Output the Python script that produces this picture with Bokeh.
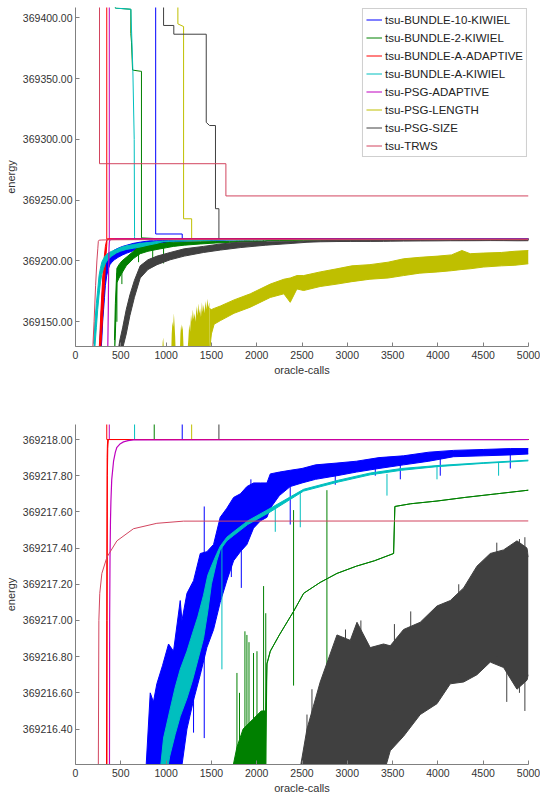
from bokeh.plotting import figure
from bokeh.layouts import column
from bokeh.models import Range1d, FixedTicker, PrintfTickFormatter, Legend, LegendItem
from bokeh.embed import file_html
from bokeh.resources import INLINE

# ---------------- data ----------------
SERIES = ["tsu-BUNDLE-10-KIWIEL", "tsu-BUNDLE-2-KIWIEL", "tsu-BUNDLE-A-ADAPTIVE",
          "tsu-BUNDLE-A-KIWIEL", "tsu-PSG-ADAPTIVE", "tsu-PSG-LENGTH", "tsu-PSG-SIZE", "tsu-TRWS"]
COLORS = ["#0000ff", "#008000", "#ff0000", "#00bfbf", "#bf00bf", "#bfbf00", "#404040", "#d2455f"]

X_TICKS = [0, 500, 1000, 1500, 2000, 2500, 3000, 3500, 4000, 4500, 5000]
TOP_Y_TICKS = [369150, 369200, 369250, 369300, 369350, 369400]
BOTTOM_Y_TICKS = [369216.4, 369216.6, 369216.8, 369217.0, 369217.2, 369217.4,
                  369217.6, 369217.8, 369218.0]

# --- tsu-BUNDLE-10-KIWIEL ---
B10_UP_X = [885, 885, 1178, 1178, 5000]
B10_UP_Y = [369450, 369222.2, 369222.2, 369218.0, 369218.0]
B10_LB_X = [270, 280, 290, 300, 310, 320, 330, 345, 360, 380,
            401, 430, 470, 520, 567, 640, 714, 780, 825, 860,
            898, 960, 1027, 1082, 1156, 1175, 1230, 1303, 1377, 1450,
            1524, 1597, 1670, 1745, 1820, 1892, 1965, 2040, 2113, 2150,
            2250, 2370, 2500, 2650, 2886, 3100, 3350, 3621, 3900, 4173,
            4500, 4800, 5000]
B10_LB_LO = [369120, 369125, 369135, 369150, 369160, 369170, 369180, 369188, 369193, 369197,
             369199, 369201, 369203, 369205, 369206.5, 369208.5, 369210, 369211.5, 369212.5, 369213.5,
             369214.2, 369215, 369215.5, 369215.8, 369216.1, 369216.2, 369216.4, 369216.56, 369216.7, 369216.85,
             369216.95, 369217.1, 369217.22, 369217.33, 369217.38, 369217.42, 369217.51, 369217.55, 369217.57, 369217.62,
             369217.69, 369217.74, 369217.76, 369217.78, 369217.80, 369217.82, 369217.84, 369217.86, 369217.88, 369217.905,
             369217.91, 369217.915, 369217.92]
B10_LB_HI = [369135, 369150, 369165, 369178, 369188, 369194, 369198, 369202, 369204, 369206,
             369207, 369209, 369210.5, 369212, 369213, 369214.5, 369215.5, 369216.2, 369216.6, 369216.55,
             369216.65, 369216.75, 369216.87, 369216.83, 369217.11, 369217.0, 369217.15, 369217.22, 369217.37, 369217.38,
             369217.42, 369217.57, 369217.62, 369217.68, 369217.70, 369217.74, 369217.76, 369217.76, 369217.76, 369217.81,
             369217.82, 369217.83, 369217.84, 369217.86, 369217.87, 369217.88, 369217.90, 369217.91, 369217.93, 369217.94,
             369217.945, 369217.95, 369217.95]
B10_SPIKE_X = [1303, 1421, 1720, 1830, 1936, 2370, 2867, 3309, 3585, 4026, 4799]
B10_SPIKE_LO = [369216.38, 369216.35, 369217.24, 369217.18, 369217.6, 369217.53, 369217.75,
                369217.80, 369217.78, 369217.80, 369217.84]
B10_SPIKE_HI = [369217.0, 369217.63, 369217.5, 369217.5, 369217.78, 369217.78, 369217.86,
                369217.85, 369217.86, 369217.9, 369217.92]

# --- tsu-BUNDLE-2-KIWIEL ---
B2_UP_X = [438, 440, 611, 611, 618, 630, 722, 728, 728, 869, 869, 5000]
B2_UP_Y = [369450, 369408, 369407, 369387, 369380, 369357, 369356, 369356, 369219,
           369218.5, 369218.0, 369218.0]
B2_LB_X = [430, 440, 457, 480, 512, 560, 640, 714, 800, 900,
           1009, 1080, 1200, 1377, 1550, 1700, 1782, 1850, 1950, 2050,
           2100, 2113, 2150, 2250, 2407, 2518, 2700, 2886, 3100, 3300,
           3511, 3525, 3700, 3990, 4300, 4650, 5000]
B2_LB_LO = [369120, 369140, 369182, 369186, 369190, 369196, 369202, 369206, 369208, 369209.5,
            369211, 369212, 369213, 369214, 369214.8, 369215.3, 369215.6, 369215.8, 369216.0, 369216.1,
            369216.2, 369216.76, 369216.83, 369216.92, 369217.05, 369217.15, 369217.21, 369217.26, 369217.30, 369217.33,
            369217.37, 369217.63, 369217.645, 369217.66, 369217.68, 369217.70, 369217.72]
B2_LB_HI = [369135, 369165, 369194, 369197, 369200, 369203, 369208, 369212.8, 369213.5, 369214.2,
            369215, 369215.5, 369215.6, 369215.8, 369216.0, 369216.1, 369216.3, 369216.4, 369216.45, 369216.5,
            369216.5, 369216.76, 369216.83, 369216.92, 369217.05, 369217.15, 369217.21, 369217.26, 369217.30, 369217.33,
            369217.37, 369217.63, 369217.645, 369217.66, 369217.68, 369217.70, 369217.72]
B2_SPIKE_X = [457, 512, 696, 852, 972, 1782, 1810, 1870, 1892, 1915, 1965, 2003, 2076, 2100, 2407, 2775]
B2_SPIKE_LO = [369150, 369181, 369199, 369199, 369198, 369216.0, 369216.0, 369216.0, 369216.0, 369216.0,
               369216.0, 369216.0, 369216.0, 369216.0, 369216.64, 369216.50]
B2_SPIKE_HI = [369190, 369198, 369210, 369212, 369214, 369216.71, 369216.6, 369216.94, 369216.92, 369216.88,
               369216.82, 369216.83, 369217.19, 369217.04, 369217.61, 369217.72]

# --- tsu-BUNDLE-A-ADAPTIVE ---
BA_UP_X = [345, 345, 5000]
BA_UP_Y = [369450, 369218.0, 369218.0]
BA_LB_X = [262, 270, 280, 290, 300, 310, 320, 330, 338, 345, 347, 349, 352, 356, 362, 5000]
BA_LB_LO = [369120, 369122, 369130, 369142, 369155, 369168, 369182, 369196, 369206, 369213,
            369216.0, 369217.0, 369217.8, 369217.95, 369218.0, 369218.0]
BA_LB_HI = [369128, 369140, 369158, 369172, 369186, 369196, 369205, 369212, 369215, 369217,
            369217.6, 369217.9, 369217.97, 369218.0, 369218.0, 369218.0]

# --- tsu-BUNDLE-A-KIWIEL ---
BK_UP_X = [438, 440, 611, 633, 648, 652, 652, 5000]
BK_UP_Y = [369450, 369408, 369407, 369357, 369300, 369220, 369218.0, 369218.0]
BK_LB_X = [200, 215, 230, 245, 260, 275, 290, 310, 330, 360,
           400, 450, 495, 560, 640, 714, 800, 900, 972, 1040,
           1100, 1156, 1230, 1292, 1350, 1413, 1460, 1500, 1560, 1597,
           1670, 1745, 1900, 2150, 2518, 2900, 3254, 3600, 3990, 4500,
           5000]
BK_LB_LO = [369120, 369130, 369145, 369160, 369172, 369182, 369189, 369194, 369198, 369201.5,
            369204, 369206.5, 369208, 369209.5, 369210.5, 369211.5, 369213, 369214.5, 369216.05, 369216.25,
            369216.37, 369216.47, 369216.57, 369216.67, 369216.78, 369216.9, 369217.05, 369217.2, 369217.33, 369217.39,
            369217.44, 369217.47, 369217.53, 369217.60, 369217.715, 369217.765, 369217.805, 369217.83, 369217.85, 369217.868,
            369217.882]
BK_LB_HI = [369132, 369150, 369165, 369176, 369188, 369194, 369199, 369202, 369204.5, 369206.5,
            369208, 369209.5, 369211, 369212.5, 369213.5, 369214.5, 369215.2, 369216.0, 369216.35, 369216.5,
            369216.63, 369216.73, 369216.83, 369216.93, 369217.02, 369217.14, 369217.25, 369217.3, 369217.37, 369217.41,
            369217.46, 369217.49, 369217.55, 369217.62, 369217.725, 369217.775, 369217.815, 369217.84, 369217.856, 369217.872,
            369217.886]
BK_SPIKE_X = [1616, 2205, 2481, 3438, 3990, 4670]
BK_SPIKE_LO = [369216.73, 369217.49, 369217.515, 369217.69, 369217.78, 369217.80]
BK_SPIKE_HI = [369217.42, 369217.62, 369217.71, 369217.81, 369217.853, 369217.875]

# --- tsu-PSG-ADAPTIVE ---
PA_UP_X = [373, 373, 5000]
PA_UP_Y = [369450, 369218.0, 369218.0]
PA_LB_X = [355, 362, 366, 370, 373, 375, 377, 381, 386, 391, 400, 420, 440, 457, 490, 530, 580, 640, 5000]
PA_LB_Y = [369120, 369160, 369195, 369210, 369215, 369216.2, 369217.0, 369217.35, 369217.55, 369217.66,
           369217.78, 369217.88, 369217.93, 369217.957, 369217.975, 369217.987, 369217.994, 369217.998, 369218.0]

# --- tsu-PSG-LENGTH ---
PL_UP_X = [1130, 1130, 1193, 1193, 1282, 1282, 5000]
PL_UP_Y = [369450, 369395, 369392.8, 369234.7, 369234.7, 369218.0, 369218.0]
PL_FLOOR = 369120
PL_SPIKY_X = [955, 962, 968, 975, 982, 1055, 1062, 1070, 1078, 1086,
              1093, 1100, 1108, 1150, 1158, 1166, 1175, 1183, 1192, 1230,
              1245, 1255, 1265, 1275, 1285, 1295, 1305, 1315, 1325, 1335,
              1345, 1355, 1365, 1375, 1385, 1395, 1405, 1415, 1425, 1435,
              1445, 1455, 1465, 1478]
PL_SPIKY_TOP = [369120, 369133, 369137, 369128, 369120, 369120, 369140, 369150, 369146, 369157,
                369148, 369138, 369120, 369120, 369140, 369148, 369143, 369147, 369130, 369120,
                369135, 369148, 369142, 369156, 369150, 369160, 369152, 369157, 369150, 369163,
                369155, 369165, 369157, 369161, 369154, 369166, 369158, 369164, 369157, 369167,
                369160, 369169, 369162, 369166]
PL_BAND_X = [1478, 1500, 1530, 1600, 1750, 1929,
             2150, 2300, 2370, 2444, 2518, 2700, 2886, 3050, 3250, 3450,
             3621, 3800, 4000, 4150, 4265, 4357, 4500, 4700, 4850, 5000]
PL_BAND_LO = [369125, 369140, 369148, 369151, 369157, 369162,
              369170, 369173, 369166, 369177, 369175.7, 369179, 369181, 369183, 369185, 369186,
              369188, 369190, 369191, 369192, 369193, 369193.6, 369195, 369196, 369196.5, 369197.7]
PL_BAND_HI = [369161, 369160, 369161, 369163, 369168, 369173,
              369181, 369185, 369186, 369188, 369188, 369191, 369193.6, 369196, 369197, 369199,
              369201.8, 369203, 369204, 369205, 369208.6, 369206, 369206.5, 369207, 369208, 369208.6]

# --- tsu-PSG-SIZE ---
PS_UP_X = [972, 972, 1085, 1085, 1443, 1443, 1480, 1545, 1545, 1583, 1583, 5000]
PS_UP_Y = [369450, 369393.7, 369393.7, 369386.5, 369386.5, 369314, 369311.4, 369311.4,
           369243, 369243, 369218.0, 369218.0]
PS_LB_X = [470, 490, 520, 560, 600, 650, 714, 800, 900, 1045,
           1200, 1413, 1600, 1818, 2100, 2400, 2555, 2701, 2886, 3033,
           3107, 3253, 3400, 3474, 3621, 3805, 3990, 4137, 4284, 4431,
           4578, 4725, 4873, 4983, 5000]
PS_LB_LO = [369120, 369122, 369128, 369140, 369155, 369170, 369186, 369193, 369197, 369201,
            369204, 369207, 369209, 369211, 369213, 369214.5, 369215.4, 369215.8, 369216.0, 369216.05,
            369216.1, 369216.1, 369216.15, 369216.28, 369216.36, 369216.48, 369216.54, 369216.65, 369216.66, 369216.70,
            369216.77, 369216.74, 369216.62, 369216.67, 369216.7]
PS_LB_HI = [369126, 369135, 369145, 369160, 369172, 369184, 369196, 369201, 369204, 369207,
            369210, 369212, 369214, 369215.5, 369215.8, 369215.95, 369216.4, 369216.66, 369216.92, 369216.89,
            369216.99, 369216.85, 369216.87, 369216.86, 369216.95, 369216.99, 369217.08, 369217.11, 369217.18, 369217.30,
            369217.37, 369217.39, 369217.44, 369217.40, 369217.35]
PS_SPIKE_X = [2555, 2610, 2650, 2980, 3150, 3520, 3700, 4230, 4480, 4650, 4760, 4900, 4960]
PS_SPIKE_LO = [369216.1, 369216.2, 369216.2, 369216.5, 369216.4, 369216.5, 369216.6, 369216.7, 369216.75,
               369216.8, 369216.55, 369216.6, 369216.5]
PS_SPIKE_HI = [369216.48, 369216.62, 369216.55, 369216.95, 369217.0, 369216.98, 369217.05, 369217.2, 369217.3,
               369217.43, 369217.4, 369217.45, 369217.46]

# --- tsu-TRWS ---
TR_UP_X = [265, 265, 1660, 1660, 5000]
TR_UP_Y = [369450, 369280, 369280, 369253.5, 369253.5]
TR_LB_X = [185, 205, 222, 236, 246, 252, 258, 268, 291, 347, 457, 640, 898, 1193, 5000]
TR_LB_Y = [369120, 369150, 369180, 369200, 369210, 369216.2, 369217.0, 369217.15, 369217.26,
           369217.35, 369217.44, 369217.507, 369217.537, 369217.549, 369217.55]

FONT = "Liberation Sans"


def draw(p):
    c = dict(zip(SERIES, COLORS))
    ups = {}
    # upper bounds (primal)
    for name, ux, uy in [(SERIES[0], B10_UP_X, B10_UP_Y), (SERIES[1], B2_UP_X, B2_UP_Y),
                         (SERIES[2], BA_UP_X, BA_UP_Y), (SERIES[3], BK_UP_X, BK_UP_Y),
                         (SERIES[4], PA_UP_X, PA_UP_Y), (SERIES[5], PL_UP_X, PL_UP_Y),
                         (SERIES[6], PS_UP_X, PS_UP_Y), (SERIES[7], TR_UP_X, TR_UP_Y)]:
        ups[name] = p.line(ux, uy, line_color=c[name], line_width=1)

    def band(name, x, lo, hi):
        p.varea(x=x, y1=lo, y2=hi, fill_color=c[name], fill_alpha=1)
        p.line(x, lo, line_color=c[name], line_width=1)
        p.line(x, hi, line_color=c[name], line_width=1)

    def spikes(name, x, lo, hi):
        p.segment(x0=x, y0=lo, x1=x, y1=hi, line_color=c[name], line_width=1)

    # lower bounds (dual)
    band(SERIES[0], B10_LB_X, B10_LB_LO, B10_LB_HI)
    spikes(SERIES[0], B10_SPIKE_X, B10_SPIKE_LO, B10_SPIKE_HI)
    band(SERIES[1], B2_LB_X, B2_LB_LO, B2_LB_HI)
    spikes(SERIES[1], B2_SPIKE_X, B2_SPIKE_LO, B2_SPIKE_HI)
    band(SERIES[2], BA_LB_X, BA_LB_LO, BA_LB_HI)
    band(SERIES[3], BK_LB_X, BK_LB_LO, BK_LB_HI)
    spikes(SERIES[3], BK_SPIKE_X, BK_SPIKE_LO, BK_SPIKE_HI)
    p.line(PA_LB_X, PA_LB_Y, line_color=c[SERIES[4]], line_width=1.2)
    p.varea(x=PL_SPIKY_X, y1=PL_FLOOR, y2=PL_SPIKY_TOP, fill_color=c[SERIES[5]], fill_alpha=1)
    band(SERIES[5], PL_BAND_X, PL_BAND_LO, PL_BAND_HI)
    band(SERIES[6], PS_LB_X, PS_LB_LO, PS_LB_HI)
    spikes(SERIES[6], PS_SPIKE_X, PS_SPIKE_LO, PS_SPIKE_HI)
    p.line(TR_LB_X, TR_LB_Y, line_color=c[SERIES[7]], line_width=1)
    return ups


def style(p, yticks):
    p.xaxis.ticker = FixedTicker(ticks=X_TICKS)
    p.yaxis.ticker = FixedTicker(ticks=yticks)
    p.xaxis.formatter = PrintfTickFormatter(format="%d")
    p.yaxis.formatter = PrintfTickFormatter(format="%.2f")
    p.xaxis.axis_label = "oracle-calls"
    p.yaxis.axis_label = "energy"
    for ax in (p.xaxis[0], p.yaxis[0]):
        ax.major_tick_in = 4
        ax.major_tick_out = 0
        ax.minor_tick_line_color = None
        ax.axis_line_color = "#808080"
        ax.major_tick_line_color = "#808080"
        ax.major_label_text_font = FONT
        ax.major_label_text_font_size = "10.5px"
        ax.major_label_text_color = "#333333"
        ax.axis_label_text_font = FONT
        ax.axis_label_text_font_size = "11px"
        ax.axis_label_text_font_style = "normal"
        ax.axis_label_text_color = "#333333"
    p.xaxis.major_label_standoff = 4
    p.xaxis.axis_label_standoff = 2
    p.yaxis.major_label_standoff = 3
    p.yaxis.axis_label_standoff = 3
    p.grid.visible = False
    p.outline_line_color = None
    p.background_fill_color = "white"
    p.border_fill_color = "white"


# top panel: frame x 75..528, y 7..346
p1 = figure(width=540, height=398, output_backend="svg", toolbar_location=None,
            x_range=Range1d(0, 5000), y_range=Range1d(369129.67, 369408.47),
            min_border_left=75, min_border_right=12, min_border_top=7, min_border_bottom=52)
ups = draw(p1)
style(p1, TOP_Y_TICKS)
legend = Legend(items=[LegendItem(label=n, renderers=[ups[n]]) for n in SERIES],
                location="top_right")
legend.label_text_font = FONT
legend.label_text_font_size = "11.5px"
legend.label_text_color = "#222222"
legend.glyph_width = 16
legend.glyph_height = 15
legend.label_height = 15
legend.label_standoff = 3
legend.spacing = 3
legend.padding = 3
legend.margin = 1
legend.border_line_color = "#a0a0a0"
legend.background_fill_alpha = 1
p1.add_layout(legend)

# bottom panel: frame x 75..528, y 424..764
p2 = figure(width=540, height=399, output_backend="svg", toolbar_location=None,
            x_range=Range1d(0, 5000), y_range=Range1d(369216.204, 369218.083),
            min_border_left=75, min_border_right=12, min_border_top=26, min_border_bottom=33)
draw(p2)
style(p2, BOTTOM_Y_TICKS)

layout = column(p1, p2, spacing=0)
open("out.html", "w").write(file_html(layout, INLINE))
